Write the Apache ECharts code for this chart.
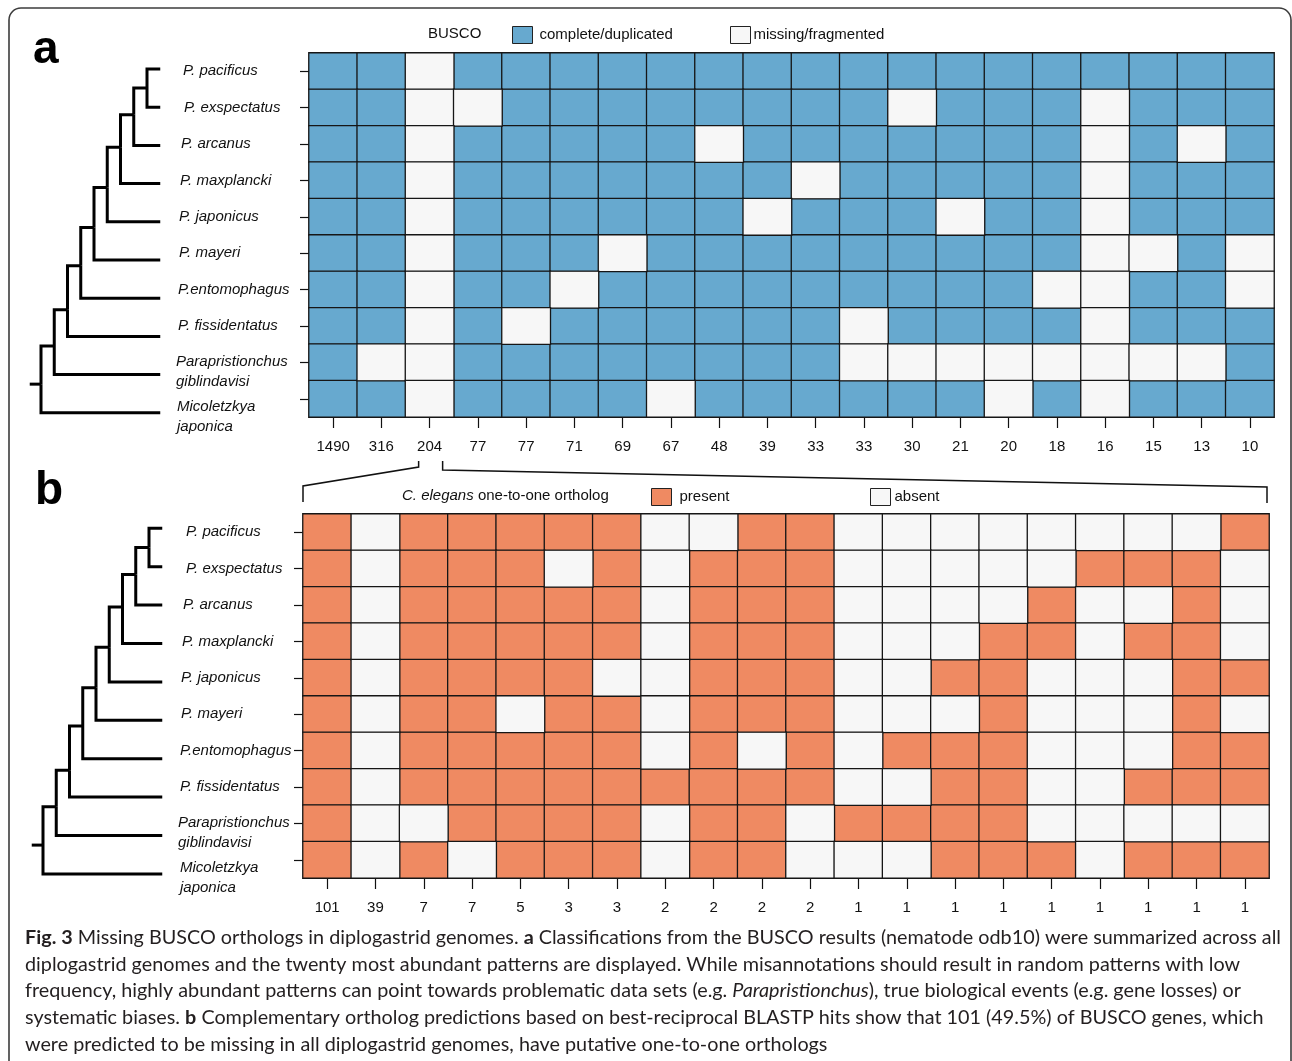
<!DOCTYPE html>
<html><head><meta charset="utf-8">
<script src="https://cdn.jsdelivr.net/npm/echarts@6/dist/echarts.min.js"></script>
<style>html,body{margin:0;padding:0;background:#fff}#c{width:1292px;height:1061px}</style>
</head><body><div id="c"></div>
<script>
// ---------------- data ----------------
const species = ['P. pacificus','P. exspectatus','P. arcanus','P. maxplancki','P. japonicus','P. mayeri','P.entomophagus','P. fissidentatus','Parapristionchus\ngiblindavisi','Micoletzkya\njaponica'];
const buscoCounts = [1490,316,204,77,77,71,69,67,48,39,33,33,30,21,20,18,16,15,13,10];
const orthologCounts = [101,39,7,7,5,3,3,2,2,2,2,1,1,1,1,1,1,1,1,1];
// 1 = complete/duplicated, 0 = missing/fragmented (rows = species, cols = patterns)
const buscoPatterns = [
  '11011111111111111111',
  '11001111111101110111',
  '11011111011111110101',
  '11011111110111110111',
  '11011111101110110111',
  '11011101111111110010',
  '11011011111111100110',
  '11010111111011110111',
  '10011111111000000001',
  '11011110111111010111'
];
// 1 = present, 0 = absent
const orthologPatterns = [
  '10111110011000000001',
  '10111010111000001110',
  '10111110111000010010',
  '10111110111000110110',
  '10111100111001100011',
  '10110110111000100010',
  '10111110101011100011',
  '10111111111001100111',
  '10011110110111100000',
  '10101110110001110111'
];
// ladder tree: internal node k (level k) joins node k-1 (or leaf 0) with leaf k; vertical position in leaf units
const treeNodePos = [0.5, 1.2, 2.05, 3.1, 4.15, 5.15, 6.3, 7.25, 8.25];
const captionLines = [
 '{b|Fig. 3} Missing BUSCO orthologs in diplogastrid genomes. {b|a} Classifications from the BUSCO results (nematode odb10) were summarized across all',
 'diplogastrid genomes and the twenty most abundant patterns are displayed. While misannotations should result in random patterns with low',
 'frequency, highly abundant patterns can point towards problematic data sets (e.g. {i|Parapristionchus}), true biological events (e.g. gene losses) or',
 'systematic biases. {b|b} Complementary ortholog predictions based on best-reciprocal BLASTP hits show that 101 (49.5%) of BUSCO genes, which',
 'were predicted to be missing in all diplogastrid genomes, have putative one-to-one orthologs'
];

// ---------------- styling / layout ----------------
const BLUE = '#67a9cf', ORANGE = '#ef8a62', BLANK = '#f7f7f7', INK = '#111';
const FONT = '"Liberation Sans", Arial, sans-serif';
const CAPFONT = 'Lato, sans-serif';
const CAPSIZE = 19.8;
const shiftA = [7,8,5,4,3,3,2,2,0,1];
const shiftB = [8,8,5,4,3,3,2,2,0,2];
const spacer = {8: 19, 9: 36};

function cells(patterns, want){
  const out = [];
  patterns.forEach((row, r) => row.split('').forEach((ch, c) => { if (+ch === want) out.push([c, r, want]); }));
  return out;
}
function treeEdges(){
  const e = [];
  e.push([0, 0, 1, treeNodePos[0]]);
  e.push([0, 1, 1, treeNodePos[0]]);
  for (let k = 2; k <= 9; k++){
    e.push([0, k, k, treeNodePos[k-1]]);
    e.push([k-1, treeNodePos[k-2], k, treeNodePos[k-1]]);
  }
  e.push([9.85, treeNodePos[8], 9, treeNodePos[8]]);
  return e;
}
function speciesRich(shifts){
  const rich = {};
  for (let i = 0; i < 10; i++){
    rich['s'+i] = {fontStyle:'italic', fontFamily:FONT, fontSize:15, color:INK, lineHeight:19.5, padding:[0,0,0,shifts[i]]};
  }
  Object.keys(spacer).forEach(k => { rich['g'+k] = {fontSize:6, lineHeight:spacer[k]}; });
  return rich;
}
function speciesFmt(value, idx){
  const lines = value.split('\n').map(l => '{s'+idx+'|'+l+'}');
  if (spacer[idx] !== undefined) lines.unshift('{g'+idx+'| }');
  return lines.join('\n');
}
function heatX(gi, counts, margin){
  return {type:'category', gridIndex:gi, data:counts.map((c,i)=>String(i)), position:'bottom',
    axisLine:{show:true, lineStyle:{color:'#333', width:1}},
    axisTick:{show:true, alignWithLabel:true, interval:0, length:11, lineStyle:{color:INK, width:1.2}},
    axisLabel:{interval:0, margin:margin, fontFamily:FONT, fontSize:15, color:INK, formatter:(v,i)=>String(counts[i])},
    splitLine:{show:false}};
}
function heatY(gi, shifts, margin){
  return {type:'category', gridIndex:gi, data:species, inverse:true,
    axisLine:{show:true, lineStyle:{color:'#333', width:1}},
    axisTick:{show:true, alignWithLabel:true, interval:0, length:9, lineStyle:{color:INK, width:1.2}},
    axisLabel:{interval:0, margin:margin, align:'left', verticalAlign:'middle', formatter:speciesFmt, rich:speciesRich(shifts)},
    splitLine:{show:false}};
}
function heatSeries(name, xi, patterns, want, color){
  return {type:'heatmap', name:name, xAxisIndex:xi, yAxisIndex:xi, data:cells(patterns, want),
    itemStyle:{color:color, borderColor:'#161616', borderWidth:1.3}, emphasis:{disabled:true}, silent:true, z:3};
}
function treeSeries(idx){
  return {type:'custom', xAxisIndex:idx, yAxisIndex:idx, data:treeEdges(), silent:true, clip:false,
    encode:{x:[0,2], y:[1,3]},
    renderItem:function(params, api){
      const p0 = api.coord([api.value(0), api.value(1)]);
      const p1 = api.coord([api.value(2), api.value(1)]);
      const p2 = api.coord([api.value(2), api.value(3)]);
      return {type:'polyline', shape:{points:[p0,p1,p2]}, style:{stroke:'#000', lineWidth:3, fill:null, lineJoin:'miter'}};
    }};
}
function legendOne(name, left, top, color, gap){
  return {left:left, top:top, padding:0, selectedMode:false, itemWidth:20, itemHeight:17,
    icon:'rect', textStyle:{fontFamily:FONT, fontSize:15, color:INK, padding:[0,0,0,gap]},
    data:[{name:name, itemStyle:{color:color, borderColor:'#222', borderWidth:1}}]};
}

const chart = echarts.init(document.getElementById('c'), null, {renderer:'canvas'});
const option = {
  backgroundColor:'#fff',
  animation:false,
  grid:[
    {left:309, top:53, width:965, height:364},
    {left:303, top:514, width:966, height:364},
    {left:27.75, top:69, width:132.5, height:343.8},
    {left:29.75, top:528.3, width:132.5, height:345.6}
  ],
  xAxis:[
    heatX(0, buscoCounts, 22),
    heatX(1, orthologCounts, 22),
    {type:'value', gridIndex:2, min:0, max:10, inverse:true, show:false},
    {type:'value', gridIndex:3, min:0, max:10, inverse:true, show:false}
  ],
  yAxis:[
    heatY(0, shiftA, 133),
    heatY(1, shiftB, 125),
    {type:'value', gridIndex:2, min:0, max:9, inverse:true, show:false},
    {type:'value', gridIndex:3, min:0, max:9, inverse:true, show:false}
  ],
  title:[
    {text:'BUSCO', left:428, top:26, padding:0, textStyle:{fontFamily:FONT, fontSize:15, fontWeight:'normal', color:INK}},
    {text:'{i|C. elegans} one-to-one ortholog', left:402, top:488, padding:0,
     textStyle:{fontFamily:FONT, fontSize:15, fontWeight:'normal', color:INK,
       rich:{i:{fontFamily:FONT, fontSize:15, fontStyle:'italic', color:INK}}}},
    {text:'a', left:33, top:27, padding:0, textStyle:{fontFamily:FONT, fontSize:46, fontWeight:'bold', color:'#000'}},
    {text:'b', left:35, top:468, padding:0, textStyle:{fontFamily:FONT, fontSize:46, fontWeight:'bold', color:'#000'}}
  ],
  legend:[
    legendOne('complete/duplicated', 512, 26, BLUE, 2),
    legendOne('missing/fragmented', 730, 26, BLANK, -2),
    legendOne('present', 651, 488, ORANGE, 3),
    legendOne('absent', 870, 488, BLANK, -1)
  ],
  series:[
    heatSeries('complete/duplicated', 0, buscoPatterns, 1, BLUE),
    heatSeries('missing/fragmented', 0, buscoPatterns, 0, BLANK),
    heatSeries('present', 1, orthologPatterns, 1, ORANGE),
    heatSeries('absent', 1, orthologPatterns, 0, BLANK),
    treeSeries(2),
    treeSeries(3)
  ]
};
chart.setOption(option);

// decorations: frame, caption and the bracket linking column "204" to panel b
const c2 = chart.convertToPixel({xAxisIndex:0}, 2);
const b0 = chart.convertToPixel({xAxisIndex:1}, 0);
const b1 = chart.convertToPixel({xAxisIndex:1}, 1);
const b19 = chart.convertToPixel({xAxisIndex:1}, 19);
const bw = b1 - b0;
const bL = b0 - bw/2, bR = b19 + bw/2 - 2;
const capRich = {
  b:{fontFamily:CAPFONT, fontSize:CAPSIZE, fontWeight:'bold', fill:'#231f20'},
  i:{fontFamily:CAPFONT, fontSize:CAPSIZE, fontStyle:'italic', fill:'#231f20'}
};
const capY = [938, 965, 991, 1018, 1045];
const graphics = [
  {id:'frame', type:'rect', silent:true, shape:{x:9, y:8, width:1282, height:1100, r:12},
   style:{fill:null, stroke:'#3c3c3c', lineWidth:1.6}},
  {id:'brL', type:'polyline', silent:true, shape:{points:[[c2-11,461],[c2-11,467],[bL,486],[bL,502]]},
   style:{stroke:'#111', lineWidth:1.5, fill:null}},
  {id:'brR', type:'polyline', silent:true, shape:{points:[[c2+13,461],[c2+13,470],[bR,487],[bR,503]]},
   style:{stroke:'#111', lineWidth:1.5, fill:null}}
];
captionLines.forEach((t, i) => {
  graphics.push({id:'cap'+i, type:'text', silent:true, x:25, y:capY[i],
    style:{text:t, fontFamily:CAPFONT, fontSize:CAPSIZE, fill:'#231f20', textAlign:'left', textVerticalAlign:'middle', rich:capRich}});
});
chart.setOption({graphic:graphics});
</script>
</body></html>
